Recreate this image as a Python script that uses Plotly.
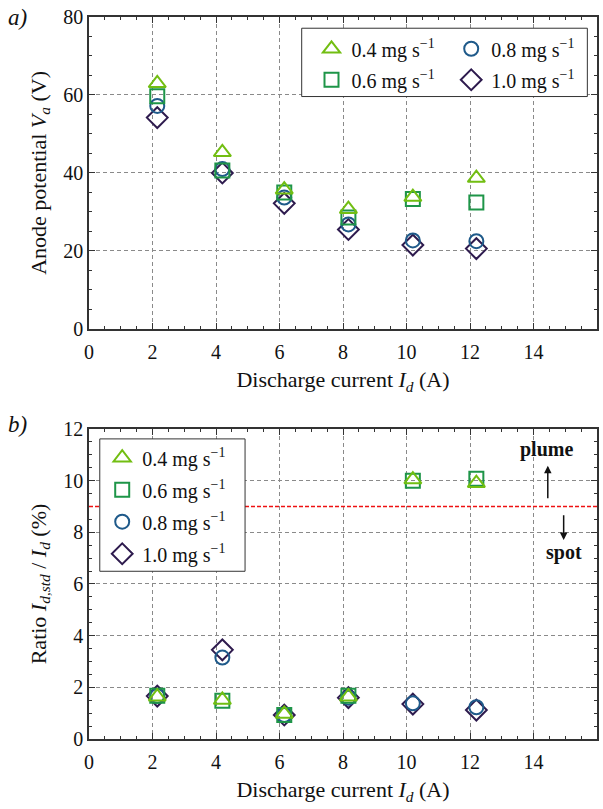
import plotly.graph_objects as go
from plotly.subplots import make_subplots

# ---------------- data ----------------
series_names = ["0.4 mg s<sup>−1</sup>", "0.6 mg s<sup>−1</sup>",
                "0.8 mg s<sup>−1</sup>", "1.0 mg s<sup>−1</sup>"]
current_A = [2.15, 4.2, 6.15, 8.17, 10.2, 12.2]

anode_04 = [63.0, 45.3, 35.7, 30.7, 33.8, 38.7]
anode_06 = [59.7, 40.6, 35.0, 28.6, 33.3, 32.4]
anode_08 = [57.2, 41.0, 33.7, 26.8, 22.7, 22.5]
anode_10 = [54.2, 40.0, 32.2, 25.5, 21.5, 20.6]

ratio_04 = [1.64, 1.51, 0.97, 1.64, 10.04, 9.9]
ratio_06 = [1.67, 1.48, 0.93, 1.67, 10.0, 10.07]
ratio_08 = [1.66, 3.15, 0.93, 1.60, 1.38, 1.23]
ratio_10 = [1.66, 3.45, 0.93, 1.60, 1.35, 1.12]

threshold = 9.0
x_ticks = [0, 2, 4, 6, 8, 10, 12, 14]

# ---------------- style ----------------
colors = ["#72BE12", "#1E9548", "#1F5A8A", "#2E1B4E"]
symbols = ["triangle-up-open", "square-open", "circle-open", "diamond-open"]
sizes = [15, 14, 14, 16]
FONT = "Liberation Serif"
AX = "#333333"

fig = make_subplots(rows=2, cols=1)

anode = [anode_04, anode_06, anode_08, anode_10]
ratio = [ratio_04, ratio_06, ratio_08, ratio_10]
# panel a legends: column 1 (0.4, 0.6) -> legend, column 2 (0.8, 1.0) -> legend2
legend_a = ["legend", "legend", "legend2", "legend2"]

for i in [3, 2, 1, 0]:
    fig.add_trace(go.Scatter(
        x=current_A, y=anode[i], mode="markers", name=series_names[i],
        marker=dict(symbol=symbols[i], size=sizes[i], color=colors[i],
                    line=dict(width=2, color=colors[i])),
        legend=legend_a[i], legendgroup=f"a{i}", legendrank=i + 1), row=1, col=1)

for i in [3, 2, 1, 0]:
    fig.add_trace(go.Scatter(
        x=current_A, y=ratio[i], mode="markers", name=series_names[i],
        marker=dict(symbol=symbols[i], size=sizes[i], color=colors[i],
                    line=dict(width=2, color=colors[i])),
        legend="legend3", legendgroup=f"b{i}", legendrank=i + 1), row=2, col=1)

axis_common = dict(
    showline=True, linecolor=AX, linewidth=1.5, mirror="allticks",
    ticks="inside", ticklen=6, tickwidth=1, tickcolor=AX,
    showgrid=True, gridcolor="#8a8a8a", gridwidth=1, griddash="4px,3px",
    zeroline=False, automargin=False,
    tickfont=dict(family=FONT, size=20, color="#111"),
    minor=dict(ticks="inside", ticklen=3, tickcolor=AX, showgrid=False),
)

for r in [1, 2]:
    fig.update_xaxes(range=[0, 16], tickvals=x_ticks, ticktext=[str(v) for v in x_ticks],
                     title=dict(text="Discharge current <i>I<sub>d</sub></i> (A)",
                                font=dict(family=FONT, size=22, color="#111"), standoff=10),
                     ticklabelstandoff=4,
                     **axis_common, row=r, col=1)
    fig.update_xaxes(minor_dtick=0.5, row=r, col=1)

fig.update_yaxes(range=[0, 80], dtick=20, minor_dtick=5,
                 title=dict(text="Anode potential <i>V<sub>a</sub></i> (V)",
                            font=dict(family=FONT, size=22, color="#111"), standoff=11),
                 **axis_common, row=1, col=1)
fig.update_yaxes(range=[0, 12], dtick=2, minor_dtick=0.5,
                 title=dict(text="Ratio <i>I<sub>d,std</sub></i> / <i>I<sub>d</sub></i> (%)",
                            font=dict(family=FONT, size=22, color="#111"), standoff=11),
                 **axis_common, row=2, col=1)

leg_common = dict(xanchor="left", yanchor="top", bgcolor="rgba(0,0,0,0)", borderwidth=0,
                  font=dict(family=FONT, size=20), itemwidth=30)

fig.update_layout(
    width=603, height=809,
    margin=dict(l=89, r=6, t=17, b=70),
    paper_bgcolor="white", plot_bgcolor="white",
    font=dict(family=FONT, size=20, color="#111"),
    xaxis=dict(domain=[0, 1]), xaxis2=dict(domain=[0, 1]),
    yaxis=dict(domain=[0.568, 1.0]), yaxis2=dict(domain=[0.0, 0.4294]),
    legend=dict(x=0.438, y=0.983, tracegroupgap=2, **leg_common),
    legend2=dict(x=0.713, y=0.983, tracegroupgap=2, **leg_common),
    legend3=dict(x=0.026, y=0.4166, tracegroupgap=3, **leg_common),
    showlegend=True,
)

# threshold line in panel b
fig.add_shape(type="line", xref="x2 domain", yref="y2", x0=0, x1=1,
              y0=threshold, y1=threshold,
              line=dict(color="#ee1111", width=1.5, dash="4px,2px"))

# white framed boxes behind the legend entries (no markers lie in these areas)
fig.add_shape(type="rect", xref="x domain", yref="y domain",
              x0=0.4187, x1=0.981, y0=0.745, y1=0.964,
              fillcolor="white", line=dict(color=AX, width=1), layer="above")
fig.add_shape(type="rect", xref="x2 domain", yref="y2 domain",
              x0=0.0212, x1=0.3072, y0=0.541, y1=0.968,
              fillcolor="white", line=dict(color=AX, width=1), layer="above")

# plume / spot arrows and labels
fig.add_annotation(x=14.45, y=10.58, ax=14.45, ay=9.26, xref="x2", yref="y2",
                   axref="x2", ayref="y2", showarrow=True, arrowhead=2,
                   arrowwidth=1.5, arrowcolor="#111", arrowsize=1, text="")
fig.add_annotation(x=14.95, y=7.7, ax=14.95, ay=8.72, xref="x2", yref="y2",
                   axref="x2", ayref="y2", showarrow=True, arrowhead=2,
                   arrowwidth=1.5, arrowcolor="#111", arrowsize=1, text="")
fig.add_annotation(x=14.4, y=11.2, xref="x2", yref="y2", showarrow=False,
                   text="<b>plume</b>", font=dict(family=FONT, size=20, color="#111"))
fig.add_annotation(x=14.95, y=7.2, xref="x2", yref="y2", showarrow=False,
                   text="<b>spot</b>", font=dict(family=FONT, size=20, color="#111"))

# panel labels
fig.add_annotation(x=-0.14, y=1.0, xref="paper", yref="paper", xanchor="center",
                   yanchor="middle", showarrow=False, text="<i>a)</i>",
                   font=dict(family=FONT, size=23, color="#111"))
fig.add_annotation(x=-0.14, y=0.4355, xref="paper", yref="paper", xanchor="center",
                   yanchor="middle", showarrow=False, text="<i>b)</i>",
                   font=dict(family=FONT, size=23, color="#111"))

fig.write_html("out.html", config={"displayModeBar": False},
               post_script="document.body.style.margin='0';document.body.style.overflow='hidden';")
